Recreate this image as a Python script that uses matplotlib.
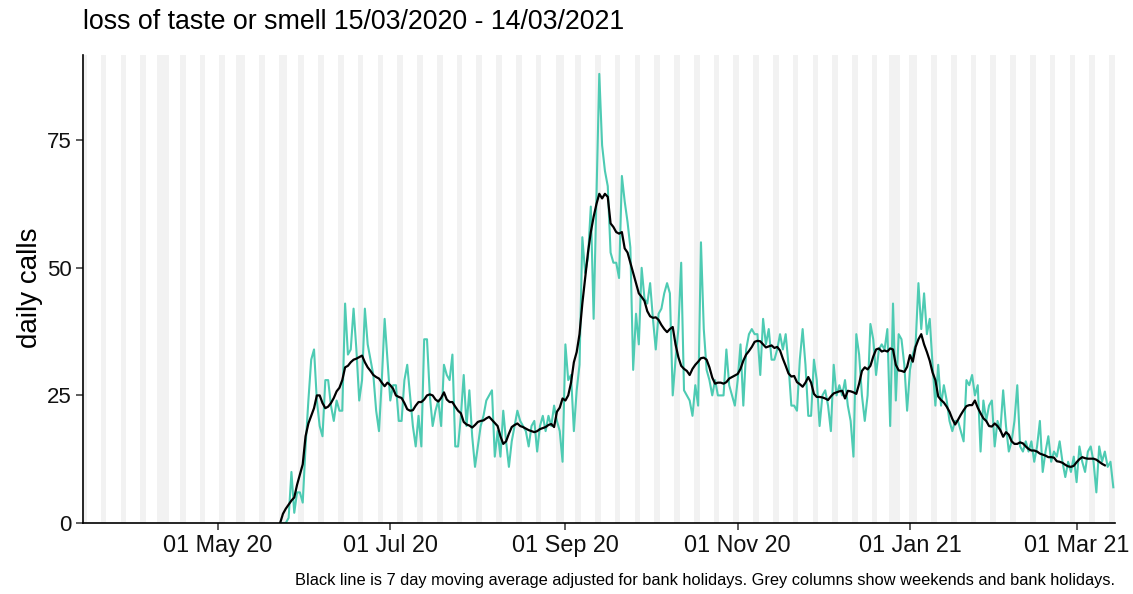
import pandas as pd
import matplotlib
matplotlib.use("Agg")
import matplotlib.pyplot as plt
import matplotlib.dates as mdates

plt.rcParams['font.family'] = ['Liberation Sans', 'DejaVu Sans']

period_start = "2020-03-15"
period_end = "2021-03-14"
first_day = "2020-05-23"

# daily calls from 23/05/2020
calls = [
    0, 0, 0, 1, 10, 2, 6, 6, 4, 15,
    24, 32, 34, 24, 19, 17, 28, 28, 23, 20,
    24, 22, 22, 43, 33, 34, 42, 34, 24, 28,
    42, 35, 32, 29, 22, 18, 28, 40, 32, 24,
    27, 27, 20, 20, 28, 31, 25, 19, 15, 21,
    15, 36, 36, 25, 19, 22, 24, 19, 31, 29,
    28, 33, 15, 15, 21, 29, 19, 26, 17, 11,
    15, 19, 21, 24, 25, 26, 13, 18, 13, 22,
    16, 11, 16, 19, 22, 20, 19, 18, 15, 19,
    20, 14, 19, 21, 18, 21, 19, 23, 20, 18,
    12, 35, 28, 29, 18, 26, 31, 56, 49, 52,
    62, 40, 64, 88, 74, 69, 66, 53, 51, 51,
    48, 68, 63, 59, 54, 30, 41, 35, 50, 44,
    43, 47, 40, 34, 41, 42, 45, 47, 45, 25,
    32, 38, 51, 26, 25, 24, 21, 27, 23, 55,
    38, 30, 28, 25, 28, 25, 25, 25, 34, 27,
    25, 23, 28, 35, 23, 34, 37, 38, 37, 37,
    29, 40, 35, 38, 32, 32, 34, 37, 34, 37,
    31, 23, 23, 22, 32, 38, 31, 21, 21, 32,
    28, 19, 25, 26, 23, 18, 31, 25, 27, 25,
    28, 23, 20, 13, 37, 33, 25, 20, 25, 39,
    36, 29, 34, 35, 34, 38, 19, 43, 24, 37,
    36, 31, 22, 30, 33, 35, 47, 38, 45, 37,
    40, 31, 23, 31, 23, 27, 24, 20, 18, 20,
    20, 18, 16, 28, 27, 29, 25, 27, 14, 24,
    20, 23, 24, 15, 20, 18, 26, 19, 14, 16,
    20, 27, 15, 14, 16, 14, 16, 12, 15, 20,
    10, 14, 17, 12, 14, 13, 16, 12, 9, 12,
    10, 13, 8, 15, 12, 10, 14, 15, 12, 6,
    15, 12, 14, 11, 12, 7,
]

# 7 day moving average (bank holiday adjusted), same start day
calls_avg = [
    0, 1.8, 2.8, 3.6, 4.4, 5, 7.5, 9.5, 11.5, 17,
    19.5, 21, 22.5, 25, 25, 23.5, 22.5, 22.8, 23.5, 24.5,
    25.8, 26.5, 28, 30.5, 30.8, 31.5, 32, 32.2, 32.5, 32.8,
    31.5, 30.5, 29.8, 29, 28.6, 28.3, 27.5, 26.8, 27.5, 27,
    26.3, 25, 24.7, 24.5, 23.5, 22.3, 22, 22.1, 23, 23.7,
    23.7, 24.2, 25, 25.2, 25, 24.2, 23.8, 24.5, 25.6, 24.2,
    23.7, 23.7, 22.8, 22, 21.5, 19.8, 19.3, 19.1, 18.7, 19.2,
    19.8, 20, 20.1, 20.5, 20.8, 20.2, 19.6, 19, 17, 15.5,
    16, 17.5, 18.8, 19.2, 19.5, 19, 18.8, 18.5, 18.2, 18,
    17.8, 18, 18.4, 18.6, 18.8, 19.2, 19.4, 18.8, 21.8, 22.6,
    24.4, 24, 25, 27.5, 31.5, 33.5, 37, 43, 48, 53,
    57, 60, 62.5, 64.5, 63.6, 64.5, 63.9, 58.7, 58, 57,
    56.7, 57, 53.8, 53, 51, 49, 47, 45, 44.3, 43.5,
    41.5, 40.5, 40.2, 40.3, 39.8, 38.8, 38, 37.4, 38, 38.4,
    35, 32.5, 30.8, 30.2, 29.8, 29, 30.2, 31, 31.6, 32.3,
    32.4, 32, 30.5, 28.5, 27.3, 27.5, 27.5, 27.3, 27.6, 28.3,
    28.6, 28.9, 29.2, 30.2, 31.8, 33, 33.7, 34.5, 35.5, 35.7,
    35.6, 35, 34.4, 34.6, 34.8, 34.3, 34.5, 33.8, 32.2, 30.8,
    29.3, 28.7, 28.8, 27.6, 27.2, 26.7, 27.5, 28.6, 27.5, 25.3,
    24.7, 24.7, 24.6, 24.4, 24.1, 24.8, 25.4, 25.6, 25.8, 25.9,
    24.4, 25.9, 25.8, 25.6, 25.3, 27.3, 29.8, 30.5, 30.1, 30.8,
    32.6, 34, 34.2, 33.6, 33.8, 33.6, 34.2, 34, 31, 29.9,
    29.8, 29.6, 30.6, 32.9, 31.6, 34.5, 36, 37, 35, 33.5,
    31.8, 29.5, 28, 24.8, 24.1, 23.6, 22.8, 21.8, 20.4, 19.3,
    20.2, 21.2, 22.1, 22.9, 23.1, 23.1, 24, 22.6, 21.5, 20.5,
    20, 19, 18.9, 19.5, 19, 18.2, 16.9, 17.8, 17.3, 16,
    15.5, 15.5, 15.8, 15.6, 15, 14.5, 14.2, 14.2, 14, 13.6,
    13.4, 13.2, 12.9, 12.9, 12.8, 12.1, 12, 11.8, 11.4, 11.1,
    11, 11.2, 11.9, 12.5, 12.9, 12.7, 12.6, 12.6, 12.6, 12.4,
    12, 11.6, 11.3,
]

bank_holidays = ["2020-04-10", "2020-04-13", "2020-05-08", "2020-05-25",
                 "2020-08-31", "2020-12-25", "2020-12-28", "2021-01-01"]

days = pd.date_range(first_day, periods=len(calls))
avg_days = pd.date_range(first_day, periods=len(calls_avg))

fig = plt.figure(figsize=(11.33, 5.94), dpi=100)
ax = fig.add_axes([83 / 1133, 71 / 594, 1032 / 1133, 468 / 594])

# grey columns for weekends and bank holidays
hols = set(pd.to_datetime(bank_holidays))
for d in pd.date_range(period_start, period_end):
    if d.weekday() >= 5 or d in hols:
        x = mdates.date2num(d)
        ax.axvspan(x - 0.5, x + 0.5, color="#f2f2f2", lw=0, zorder=0)

ax.plot(days, calls, color="#4ecbb3", lw=1.5, zorder=2)
ax.plot(avg_days, calls_avg, color="black", lw=1.6, zorder=3)

x0 = mdates.date2num(pd.Timestamp(period_start))
x1 = mdates.date2num(pd.Timestamp(period_end))
ax.set_xlim(x0 - 0.8, x1 + 0.6)
ax.set_ylim(0, 91.7)
ax.set_yticks([0, 25, 50, 75])
ax.xaxis.set_major_locator(mdates.MonthLocator(bymonth=[1, 3, 5, 7, 9, 11]))
ax.xaxis.set_major_formatter(mdates.DateFormatter("%d %b %y"))

for s in ["top", "right"]:
    ax.spines[s].set_visible(False)
for s in ["left", "bottom"]:
    ax.spines[s].set_linewidth(1.2)
    ax.spines[s].set_color("black")
ax.tick_params(length=5, width=1.1, color="#333333", labelcolor="#111111", pad=3)
ax.tick_params(axis="x", labelsize=16.8)
ax.tick_params(axis="y", labelsize=16)

fig.text(83 / 1133, 1 - 22 / 594, "loss of taste or smell 15/03/2020 - 14/03/2021",
         fontsize=19.3, ha="left", va="center")
fig.text(30 / 1133, 1 - 288 / 594, "daily calls", fontsize=20, rotation=90,
         ha="center", va="center")
fig.text(1115 / 1133, 1 - 580 / 594,
         "Black line is 7 day moving average adjusted for bank holidays. "
         "Grey columns show weekends and bank holidays.",
         fontsize=11.75, ha="right", va="center")

fig.savefig("out.png", dpi=100)
